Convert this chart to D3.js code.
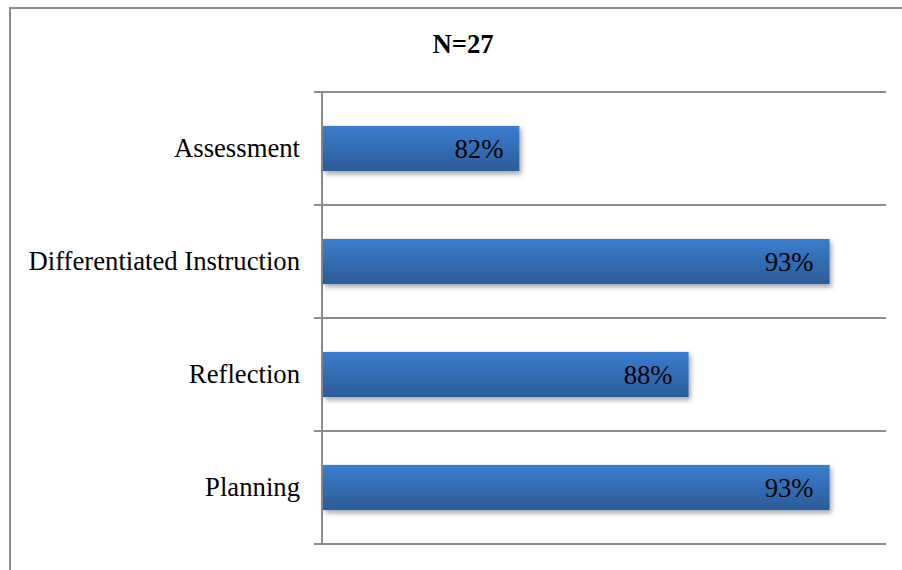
<!doctype html>
<html>
 <head>
  <meta charset='utf-8'>
  <title>N=27</title>
  <script src='https://cdn.jsdelivr.net/npm/d3@7/dist/d3.min.js'></script>
  <style>
    html,
    body{
      margin:0;
      background:white;
    }
    text{
      font-family:'Liberation Serif','Times New Roman',serif;
    }
  </style>
 </head>
 <body>
  <svg id='chart' width='902' height='570'></svg>
  <script>

    // data
    var categories = ['Assessment','Differentiated Instruction','Reflection','Planning']
    var values     = [0.82,0.93,0.88,0.93]
    var title      = 'N=27'

    var W = 902, H = 570
    var margin = {top:92, right:16, bottom:26, left:322}
    var serif  = "'Liberation Serif','Times New Roman',serif"
    var fs     = 26.7

    var svg = d3.select('#chart')

    // gradient + shadow
    var defs = svg.append('defs')
    var grad = defs.append('linearGradient')
        .attr('id','barGrad')
        .attr('x1',0).attr('y1',0).attr('x2',0).attr('y2',1)
        grad.append('stop').attr('offset','0%').attr('stop-color','#3b7dcf')
        grad.append('stop').attr('offset','100%').attr('stop-color','#2b5c99')
    var shadow = defs.append('filter')
        .attr('id','shadow')
        .attr('x','-5%').attr('y','-20%').attr('width','115%').attr('height','160%')
        shadow.append('feDropShadow')
          .attr('dx',2).attr('dy',3).attr('stdDeviation',2.5)
          .attr('flood-color','#000').attr('flood-opacity',0.35)

    // outer frame (left + top only visible)
    svg.append('path')
       .attr('d','M10,570 V8 H902')
       .attr('fill','none')
       .attr('stroke','#8c8c8c')
       .attr('stroke-width',2)

    var x = d3.scaleLinear()
              .domain([0.75,0.95])
              .range([margin.left,886])

    var y = d3.scaleBand()
              .domain(categories)
              .range([margin.top,H - margin.bottom])
              .paddingInner(0.6)
              .paddingOuter(0.3)

    // category separators
    var step = y.step()
    var seps = d3.range(categories.length + 1).map(function(i){
      return margin.top + i * step
    })
    svg.append('g')
       .selectAll('line')
       .data(seps)
       .join('line')
       .attr('x1',314)
       .attr('x2',x.range()[1])
       .attr('y1',function(d){ return d })
       .attr('y2',function(d){ return d })
       .attr('stroke','#8c8c8c')
       .attr('stroke-width',2)

    // axis
    svg.append('g')
       .attr('transform','translate(' + margin.left + ',0)')
       .call(d3.axisLeft(y).tickSize(0).tickPadding(22))
       .call(function(g){
         g.select('.domain').remove()
         g.attr('font-family',serif).attr('font-size',fs)
         g.selectAll('text')
          .attr('fill','#000')
       })
    svg.append('line')
       .attr('x1',margin.left).attr('x2',margin.left)
       .attr('y1',seps[0]).attr('y2',seps[seps.length - 1])
       .attr('stroke','#8c8c8c')
       .attr('stroke-width',2)

    // bars
    var bars = svg.append('g')
        .selectAll('g')
        .data(categories)
        .join('g')

        bars.append('rect')
            .attr('x',x(0.75) + 1)
            .attr('y',function(d){ return y(d) })
            .attr('width',function(d,i){ return x(values[i]) - x(0.75) - 1 })
            .attr('height',y.bandwidth())
            .attr('fill','url(#barGrad)')
            .attr('filter','url(#shadow)')

        bars.append('text')
            .attr('x',function(d,i){ return x(values[i]) - 16 })
            .attr('y',function(d){ return y(d) + y.bandwidth() / 2 })
            .attr('dy','0.35em')
            .attr('text-anchor','end')
            .attr('font-size',fs)
            .attr('fill','#000')
            .text(function(d,i){ return d3.format('.0%')(values[i]) })

    // title
    svg.append('text')
       .attr('x',463)
       .attr('y',53)
       .attr('text-anchor','middle')
       .attr('font-size',fs)
       .attr('font-weight','bold')
       .text(title)

  </script>
 </body>
</html>
